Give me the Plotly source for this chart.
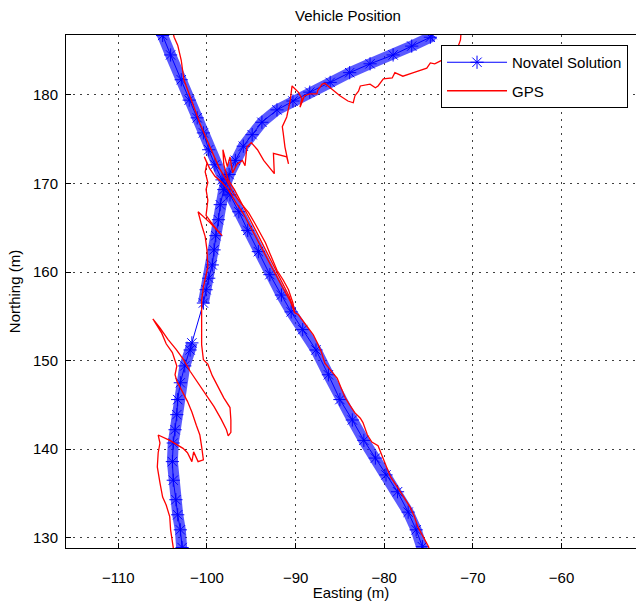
import plotly.graph_objects as go

# ---------------- data (metres) ----------------
# Novatel solution, pass 1 (diagonal, top-left -> bottom-right)
nov1_e = [-105.5, -105.0, -104.1, -102.9, -102.0, -101.1, -100.4, -99.8, -99.1, -98.3, -97.4,
          -96.4, -95.4, -94.2, -92.9, -91.6, -90.5, -89.2, -87.7, -86.3, -85.0, -83.6, -82.3,
          -81.0, -79.8, -78.5, -77.3, -76.4, -75.7, -75.5]
nov1_n = [187.5, 186.7, 184.5, 181.7, 179.4, 177.4, 175.7, 173.8, 172.1, 170.4, 168.7,
          166.8, 164.7, 162.3, 159.7, 157.4, 155.5, 153.5, 151.2, 148.4, 145.6, 143.3, 141.0,
          139.0, 137.1, 135.2, 132.9, 130.9, 129.0, 128.1]
# Novatel solution, pass 2 (bottom-left -> top-right), before and after the outage
nov2a_e = [-102.8, -102.8, -103.0, -103.3, -103.5, -103.8, -103.9, -103.8, -103.6, -103.4,
           -103.3, -103.0, -102.5, -101.9, -101.7]
nov2a_n = [128.1, 128.9, 130.9, 132.6, 134.3, 136.5, 138.6, 140.7, 142.2, 143.9,
           145.6, 147.5, 149.4, 151.2, 152.0]
nov2b_e = [-100.4, -100.1, -99.8, -99.4, -99.2, -99.0, -98.7, -98.5, -98.1, -97.5, -96.8,
           -95.9, -94.9, -93.8, -92.1, -90.3, -88.4, -86.1, -83.9, -81.6, -79.0, -76.9, -74.8, -74.6]
nov2b_n = [156.5, 158.0, 159.3, 160.8, 162.5, 164.1, 165.9, 167.6, 169.3, 171.0, 172.6,
           174.2, 175.5, 176.9, 178.3, 179.3, 180.3, 181.4, 182.5, 183.5, 184.5, 185.5, 186.5, 186.8]

# GPS, pass 1
gps1_e = [-103.9, -103.7, -103.3, -102.9, -102.6, -101.9, -101.3, -100.8, -100.0, -99.3, -98.6,
          -97.8, -97.1, -96.2, -95.3, -94.6, -94.0, -93.4, -92.9, -92.1, -91.4, -90.8, -90.3,
          -90.1, -89.7, -89.2, -88.6, -88.0, -87.6, -87.1, -86.7, -86.0, -85.3, -84.9, -84.4,
          -83.9, -83.3, -82.7, -82.4, -81.9, -81.4, -80.7, -80.5, -80.2, -79.9, -79.3, -78.5,
          -77.8, -77.1, -76.6, -76.2, -75.6, -75.0, -74.8]
gps1_n = [187.3, 186.5, 185.6, 183.9, 181.7, 179.8, 178.3, 176.8, 174.9, 173.2, 171.7,
          170.4, 169.0, 167.8, 166.7, 165.5, 164.4, 163.3, 162.1, 160.2, 159.1, 158.0, 156.5,
          155.4, 155.2, 154.5, 153.8, 152.9, 152.1, 151.0, 149.7, 148.9, 148.0, 147.0, 145.8,
          145.0, 144.1, 143.5, 143.0, 141.6, 140.8, 140.4, 139.9, 139.1, 138.2, 136.9, 135.7,
          134.6, 133.5, 132.4, 131.2, 130.1, 129.0, 128.1]
# GPS, pass 2
gps2_e = [-103.8, -103.8, -104.1, -104.2, -104.6, -105.0, -105.3, -105.6, -105.5, -105.3,
          -105.5, -104.2, -102.7, -102.2, -101.7, -101.5, -101.0, -100.4, -100.6, -100.8,
          -101.2, -101.7, -102.2, -102.8, -103.4, -103.6, -103.4, -103.9, -104.6, -105.1,
          -105.7, -106.1, -105.3, -104.4, -103.5, -102.7, -101.9, -101.0, -100.1, -99.2,
          -98.4, -97.8, -97.6, -97.3, -97.3, -97.4, -98.1, -98.7, -99.4, -99.9, -100.4,
          -100.6, -100.6, -100.6, -100.4, -100.2, -99.9, -100.0, -100.2, -100.6, -101.0,
          -99.7, -98.3, -99.3, -100.1, -99.9, -100.1, -99.9, -100.2, -100.0, -100.3, -99.7,
          -99.1, -98.3, -97.6, -96.9, -95.9, -94.9, -93.9, -92.8, -91.6, -90.6, -90.1,
          -90.7, -91.9, -93.1, -94.5, -95.8, -96.9, -97.6, -98.1, -98.2, -97.7, -97.4,
          -97.1, -96.6, -96.0, -95.7, -95.5, -95.0, -94.3, -93.6, -92.4, -92.5, -91.8,
          -91.0, -90.8, -91.2, -91.4, -91.5, -91.0, -90.8, -90.6, -90.4, -89.7, -89.3,
          -89.5, -89.0, -88.4, -87.6, -87.5, -87.0, -86.7, -86.1, -85.0, -84.1, -83.5,
          -83.3, -82.9, -82.7, -81.6, -81.0, -80.7, -80.1, -79.1, -78.8, -77.9, -76.7,
          -75.6, -75.2, -74.8, -74.3, -73.7, -72.6, -71.8, -71.4, -71.3]
gps2_n = [128.1, 128.9, 130.9, 132.4, 133.7, 134.6, 136.2, 138.0, 139.6, 140.7,
          141.6, 141.0, 140.1, 139.6, 138.6, 139.7, 138.6, 138.8, 140.3, 141.6,
          142.7, 144.2, 145.4, 146.6, 147.7, 148.4, 149.4, 150.9, 151.9, 153.1,
          154.1, 154.7, 153.7, 152.4, 151.3, 150.2, 148.8, 147.5, 146.1, 144.8,
          143.4, 142.2, 141.5, 141.9, 143.3, 144.7, 145.8, 147.0, 148.3, 149.6, 150.1,
          151.8, 153.5, 156.8, 158.3, 159.3, 160.6, 162.5, 164.0, 165.3, 166.8,
          165.6, 164.1, 165.3, 166.4, 168.1, 169.3, 170.1, 171.3, 172.3, 173.0, 171.7,
          170.8, 170.1, 169.3, 168.1, 166.6, 164.7, 162.7, 160.6, 158.5, 156.7, 155.4,
          157.2, 159.6, 161.9, 164.7, 167.2, 169.3, 170.4, 172.1, 173.8, 171.9, 173.0,
          171.2, 172.2, 172.6, 172.0, 174.1, 174.6, 173.8, 172.6, 171.1, 173.4, 173.2,
          173.0, 172.2, 174.1, 175.7, 176.4, 177.5, 178.6, 179.4, 181.0, 180.3, 179.6,
          178.6, 179.9, 180.1, 180.1, 180.5, 181.2, 181.3, 180.8, 179.9, 179.3, 179.1,
          179.9, 180.4, 181.0, 181.2, 180.8, 181.0, 181.8, 181.9, 182.5, 182.1, 182.5,
          182.9, 183.0, 183.6, 183.5, 183.8, 184.3, 185.1, 186.2, 187.5]

x_ticks = [-110, -100, -90, -80, -70, -60]
y_ticks = [130, 140, 150, 160, 170, 180]
x_range = [-115.9, -51.6]
y_range = [128.85, 186.75]

# ---------------- figure ----------------
nov_e = nov1_e + [None] + nov2a_e + nov2b_e
nov_n = nov1_n + [None] + nov2a_n + nov2b_n
band_e = nov1_e + [None] + nov2a_e + [None] + nov2b_e
band_n = nov1_n + [None] + nov2a_n + [None] + nov2b_n
gps_e = gps1_e + [None] + gps2_e
gps_n = gps1_n + [None] + gps2_n

FONT = "Liberation Sans, Arial, Helvetica, sans-serif"
fig = go.Figure()
fig.add_trace(go.Scatter(x=band_e, y=band_n, mode="lines", showlegend=False,
                         hoverinfo="skip",
                         line=dict(color="rgba(20,20,255,0.7)", width=11)))
fig.add_trace(go.Scatter(x=nov_e, y=nov_n, mode="lines+markers", name="Novatel Solution",
                         legendgroup="a",
                         line=dict(color="#0000ff", width=1),
                         marker=dict(symbol="asterisk-open", size=11,
                                     line=dict(color="#0000ff", width=1))))
fig.add_trace(go.Scatter(x=gps_e, y=gps_n, mode="lines", name="GPS", legendgroup="b",
                         line=dict(color="#ff0000", width=1.3)))

axis_common = dict(showline=True, linecolor="black", linewidth=1, mirror=True,
                   ticks="inside", ticklen=5, tickcolor="black",
                   showgrid=True, gridcolor="rgba(0,0,0,0.75)", gridwidth=1,
                   griddash="2px,5px", zeroline=False, automargin=False,
                   tickfont=dict(family=FONT, size=15, color="black"))
fig.update_xaxes(range=x_range, tickvals=x_ticks, ticklabelstandoff=16,
                 title=dict(text="Easting (m)", font=dict(family=FONT, size=15, color="black"),
                            standoff=0),
                 **axis_common)
fig.update_yaxes(range=y_range, tickvals=y_ticks, ticklabelstandoff=4,
                 title=dict(text="Northing (m)", font=dict(family=FONT, size=15, color="black"),
                            standoff=8),
                 **axis_common)
fig.update_layout(
    width=636, height=601,
    margin=dict(l=66, r=0, t=35, b=53, autoexpand=False),
    paper_bgcolor="white", plot_bgcolor="white",
    title=dict(text="Vehicle Position", font=dict(family=FONT, size=15, color="black"),
               x=348/636, xref="container", xanchor="center",
               y=1-16/601, yref="container", yanchor="middle", automargin=False),
    legend=dict(x=0.986, y=0.9805, xanchor="right", yanchor="top",
                bgcolor="white", bordercolor="black", borderwidth=1,
                font=dict(family=FONT, size=15, color="black"),
                tracegroupgap=6, itemwidth=60, traceorder="grouped"),
    showlegend=True,
)
fig.write_html("out.html", config={"displayModeBar": False},
               post_script="document.body.style.margin='0px';document.body.style.overflow='hidden';")
